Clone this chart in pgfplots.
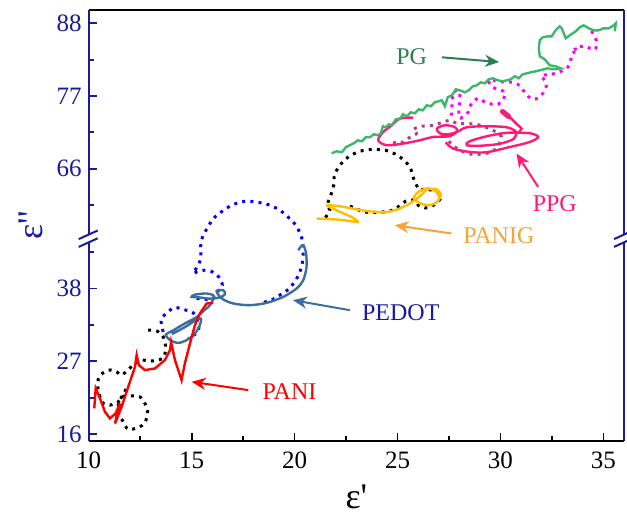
\documentclass[border=0pt]{standalone}
\usepackage{pgfplots}
\pgfplotsset{compat=1.18}
\usepackage{fontspec}
\setmainfont{Liberation Serif}
\newfontfamily\lblfont{Liberation Serif}[Ligatures=TeXOff]
\usetikzlibrary{arrows.meta}
\definecolor{navy}{HTML}{1A1A9A}
\definecolor{pgline}{HTML}{3DB86B}
\definecolor{pgtext}{HTML}{2E7D4F}
\definecolor{ppg}{HTML}{FF1A78}
\definecolor{mag}{HTML}{FF00FF}
\definecolor{dmag}{HTML}{B0408A}
\definecolor{panig}{HTML}{FFBF00}
\definecolor{panigtext}{HTML}{F7A23A}
\definecolor{pedot}{HTML}{3A6E9E}
\definecolor{bdot}{HTML}{0000FF}
\definecolor{pani}{HTML}{FF0000}
\begin{document}
\begin{tikzpicture}
\path[use as bounding box] (-44.35pt,-37.15pt) rectangle (269.15pt,220.35pt);
\begin{axis}[
  scale only axis, width=267.65pt, height=215.35pt,
  xmin=10, xmax=36, ymin=15, ymax=90,
  y coord trafo/.code={\pgfmathparse{#1>50 ? #1-9.9 : #1}},
  y coord inv trafo/.code={\pgfmathparse{#1>45.5 ? #1+9.9 : #1}},
  xtick={10,15,20,25,30,35}, minor xtick={12.5,17.5,22.5,27.5,32.5},
  ytick={16,27,38,66,77,88}, yticklabels={16,27,38,66,77,88},
  minor ytick={21.5,32.5,43.5,60.5,71.5,82.5},
  tick align=inside, xtick pos=bottom, ytick pos=left,
  major tick length=4pt, minor tick length=2.5pt,
  x tick style={black, line width=0.9pt},
  y tick style={navy, line width=0.9pt},
  separate axis lines,
  axis line style={draw=none},
  /pgf/number format/assume math mode=true,
  tick label style={font=\fontsize{12.5}{14}\selectfont},
  yticklabel style={navy},
  xticklabel style={black, yshift=-2pt},
  clip=false,
  dotstyle/.style={line width=1.5pt, dash pattern=on 1.5pt off 2.6pt, smooth, tension=0.5},
]
% black dotted (lower)
\addplot[black, dotstyle] coordinates {(12.89,31.71)(13.30,31.60)(13.62,30.70)(13.74,28.95)(13.59,27.44)(12.98,27.03)(12.49,27.18)(12.00,25.97)(11.60,24.91)(11.36,25.41)(10.95,25.67)(10.50,24.66)(10.45,22.95)(10.55,21.63)(10.71,20.64)(11.03,20.38)(11.44,20.88)(11.71,21.74)(12.09,21.79)(12.49,21.63)(12.73,20.64)(12.86,19.37)(12.73,17.71)(12.41,17.01)(11.92,16.71)(11.68,17.86)(11.44,19.13)(11.44,20.38)(11.60,21.63)(11.76,22.39)(11.81,23.15)};
% blue dotted
\addplot[bdot, dotstyle] coordinates {(13.62,31.45)(13.54,32.47)(13.54,33.48)(13.91,34.63)(14.19,35.14)(14.63,34.81)(15.08,34.32)(15.32,32.72)(15.31,31.45)(14.83,30.46)};
\addplot[bdot, dotstyle] coordinates {(15.24,36.50)(15.85,36.35)(16.13,36.74)(16.29,37.65)(16.49,38.51)(16.33,39.72)(15.94,40.62)(15.61,40.77)(15.26,40.55)(15.08,40.27)(15.31,41.53)(15.45,42.54)(15.44,43.54)(15.44,44.40)(15.49,45.41)(15.61,56.22)(15.94,57.97)(16.13,58.72)(16.37,59.33)(16.86,60.34)(17.34,60.95)(17.75,61.10)(18.07,60.99)(18.40,60.84)(18.67,60.64)(19.29,59.74)(19.93,57.97)(20.10,57.21)(20.26,56.31)(20.40,45.00)(20.42,43.54)(20.34,41.27)(20.06,39.26)(19.69,37.86)(19.45,37.34)(19.20,36.85)(18.93,36.35)(18.32,35.74)};
% PEDOT
\addplot[pedot, line width=1.2pt, smooth, tension=0.5] coordinates {(20.18,43.79)(20.39,44.55)(20.55,43.54)(20.58,41.27)(20.42,39.26)(20.10,38.01)(19.45,36.74)(18.64,35.83)(17.83,35.49)(17.02,35.74)(16.46,36.50)(16.21,37.60)(16.53,37.75)(16.62,37.15)(16.37,36.65)(15.89,36.47)(15.40,36.65)(15.00,36.74)(15.16,37.07)(15.73,37.25)(16.08,36.85)(15.89,35.49)(15.56,34.58)(15.24,33.67)(14.67,32.72)(14.04,31.56)(13.75,31.03)(13.95,30.20)(14.35,29.79)(14.76,30.20)(15.16,31.21)(15.40,32.47)(15.45,33.45)(15.21,33.22)(14.67,32.16)(14.04,31.11)};
% PANI
\addplot[pani, line width=1.2pt] coordinates {(10.27,19.88)(10.34,22.90)(10.55,21.39)(10.79,19.37)(11.03,18.37)(11.31,19.13)(11.52,20.64)(11.36,18.87)(11.28,17.61)(11.60,20.12)(11.92,23.15)(12.25,26.17)(12.33,27.93)(12.44,26.42)(12.73,25.67)(13.22,25.92)(13.70,27.18)(13.95,28.69)(14.00,29.94)(14.19,27.18)(14.51,24.16)(14.67,26.68)(14.92,29.70)(15.16,32.47)(15.40,34.23)(15.73,35.74)(16.05,35.83)};
% black dotted (upper)
\addplot[black, dotstyle] coordinates {(21.50,58.63)(21.71,59.74)(21.60,60.64)(21.76,62.00)(21.92,63.77)(21.92,64.77)(22.10,66.08)(22.41,67.29)(22.65,67.89)(23.17,68.65)(23.79,68.95)(24.09,68.91)(24.42,68.80)(25.00,68.05)(25.47,66.79)(25.65,65.93)(25.81,64.27)(26.08,62.76)(26.37,63.01)(26.97,62.35)(27.09,61.50)(26.67,60.34)(26.33,60.08)(26.00,60.49)(25.84,61.25)(25.40,61.10)(24.92,59.99)(24.63,59.63)(24.33,59.48)(23.41,59.48)(22.55,60.59)};
% PANIG
\addplot[panig, line width=1.2pt, smooth, tension=0.4] coordinates {(21.07,58.48)(22.20,58.30)(23.07,57.97)(22.78,58.68)(21.71,60.19)(21.60,60.49)(22.20,60.34)(23.41,59.66)(24.38,59.43)(25.01,59.89)(25.60,60.75)(26.08,61.85)(26.47,62.91)(26.89,62.91)(27.10,62.15)(26.96,61.10)(26.57,60.49)(26.08,60.79)(25.79,61.55)(25.99,62.46)(26.47,63.06)(26.91,62.46)(27.05,61.40)};
% magenta dotted
\addplot[mag, dotstyle] coordinates {(34.42,86.82)(34.66,85.31)(34.58,84.01)(34.09,84.51)(33.61,84.31)(33.77,83.65)(33.50,83.50)(33.36,81.79)(33.12,80.99)(32.49,80.28)(31.99,80.13)(32.15,79.37)(32.23,78.47)(32.07,77.46)(31.87,76.76)(31.58,76.50)(31.34,76.96)(31.13,77.76)(30.84,78.77)(30.35,79.18)(29.97,79.12)(29.64,79.37)(29.40,79.27)(29.72,78.17)(30.21,77.61)(30.13,76.46)(29.88,75.75)(29.32,75.95)(28.90,76.66)(28.51,75.45)(28.43,74.54)(27.99,73.74)(28.02,77.56)(27.70,77.37)(27.62,73.94)};
% dark magenta dotted
\addplot[dmag, dotstyle] coordinates {(24.79,70.05)(25.11,69.81)(25.60,70.76)(25.92,71.32)(25.76,71.93)(26.18,72.43)(26.73,72.58)(27.54,73.33)(27.86,72.83)(28.35,72.83)(28.83,72.73)(29.24,72.32)(29.72,71.67)(30.05,70.81)(29.87,69.40)(29.56,68.54)(29.00,68.20)(28.59,68.20)(28.02,68.80)(27.54,70.01)(27.46,70.81)(27.70,71.82)};
% PPG
\addplot[ppg, line width=1.2pt, smooth, tension=0.5] coordinates {(27.34,70.01)(27.70,69.06)(28.51,68.54)(29.32,68.50)(30.31,69.18)(31.42,70.05)(31.83,70.81)(31.42,71.37)(30.31,71.44)(29.34,70.92)(28.51,70.16)(28.36,69.56)(29.00,69.48)(29.97,69.78)(30.65,70.54)(30.75,71.59)(30.31,72.27)(29.34,72.43)(28.36,72.27)(27.88,71.56)(27.46,71.22)(27.05,71.37)(26.91,72.08)(27.30,72.58)(27.78,72.32)(27.88,71.67)(27.54,70.92)(26.73,70.81)(26.08,70.31)(25.27,69.81)(24.47,69.56)(24.06,70.31)(24.29,71.52)(24.72,72.58)(25.11,73.59)(25.76,73.74)};
\addplot[ppg, line width=1.2pt, smooth, tension=0.5] coordinates {(30.13,74.59)(30.45,73.79)(30.85,72.58)(31.02,72.08)(30.89,71.52)};
\addplot[ppg, line width=2.6pt, line cap=round] coordinates {(30.10,74.65)(30.40,73.90)};
% PG
\addplot[pgline, line width=1.2pt] coordinates {(21.80,68.35)(22.05,68.65)(22.30,68.50)(22.49,69.25)(22.68,69.56)(22.88,69.86)(23.07,70.31)(23.27,70.16)(23.46,70.76)(23.66,70.76)(23.85,71.22)(24.04,71.07)(24.19,71.37)(24.29,72.43)(24.43,72.27)(24.58,72.73)(24.72,72.58)(24.92,73.48)(25.11,73.48)(25.26,74.24)(25.45,73.94)(25.65,74.54)(25.84,74.39)(26.03,74.99)(26.23,74.84)(26.42,75.60)(26.62,75.45)(26.81,76.05)(27.00,76.20)(27.15,76.35)(27.30,75.45)(27.44,76.81)(27.64,77.11)(27.83,78.01)(28.02,77.86)(28.27,77.56)(28.46,77.86)(28.66,78.47)(28.85,78.62)(29.04,79.07)(29.24,78.92)(29.43,79.53)(29.63,79.68)(29.87,79.37)(30.11,79.22)(30.31,79.37)(30.50,79.53)(30.69,79.98)(30.89,79.68)(31.08,80.28)(31.28,80.43)(31.47,80.58)(31.71,80.73)(31.91,80.88)(32.10,81.04)(32.30,81.19)(32.49,81.04)(32.68,81.04)(32.93,81.19)(32.68,81.49)(32.39,81.64)(32.15,82.55)(31.91,83.00)(31.86,84.21)(31.91,85.42)(32.05,85.87)(32.30,86.02)(32.49,86.02)(32.68,86.93)(32.88,87.53)(32.98,87.23)(33.17,85.72)(33.36,86.17)(33.66,86.78)(33.85,87.38)(34.04,87.68)(34.29,87.23)(34.53,86.93)(34.77,86.93)(35.01,87.23)(35.26,87.23)(35.50,87.68)(35.60,87.98)(35.55,86.78)};
% annotations
\node[font=\fontsize{12}{14}\selectfont, text=pgtext] at (axis cs:25.69,83.00) {PG};
\draw[pgtext, line width=1pt, -{Stealth[length=7pt,width=6pt]}] (axis cs:27.15,82.85) -- (axis cs:29.93,82.14);
\node[font=\fontsize{12}{14}\selectfont, text=ppg] at (axis cs:32.64,60.79) {PPG};
\draw[ppg, line width=1pt, -{Stealth[length=7pt,width=6pt]}] (axis cs:31.83,63.26) -- (axis cs:30.78,68.30);
\node[font=\fontsize{12}{14}\selectfont, text=panigtext] at (axis cs:29.92,55.96) {PANIG};
\draw[panigtext, line width=1pt, -{Stealth[length=7pt,width=6pt]}] (axis cs:27.62,56.22) -- (axis cs:24.87,57.47);
\node[font=\fontsize{12}{14}\selectfont, text=navy] at (axis cs:25.16,34.28) {PEDOT};
\draw[pedot, line width=1pt, -{Stealth[length=7pt,width=6pt]}] (axis cs:22.68,34.73) -- (axis cs:19.92,36.24);
\node[font=\fontsize{12}{14}\selectfont, text=pani] at (axis cs:19.75,22.50) {PANI};
\draw[pani, line width=1pt, -{Stealth[length=7pt,width=6pt]}] (axis cs:17.75,22.65) -- (axis cs:15.00,23.90);
% axis labels
\node[font=\fontsize{18}{20}\selectfont, text=navy, rotate=90, anchor=base, inner sep=0pt] at (axis description cs:-0.0854,0.5) {\lblfont ε''};
\node[font=\fontsize{18}{20}\selectfont, text=black, anchor=base, inner sep=0pt] at (axis description cs:0.5,-0.1563) {\lblfont ε'};
\end{axis}
% frame with scale breaks
\draw[black, line width=1pt] (0pt,0pt) -- (267.65pt,0pt);
\draw[black, line width=1pt] (0pt,215.35pt) -- (267.65pt,215.35pt);
\draw[navy, line width=1pt] (0pt,0pt) -- (0pt,99.1pt);
\draw[navy, line width=1pt] (0pt,103.0pt) -- (0pt,215.35pt);
\draw[navy, line width=1pt] (267.65pt,0pt) -- (267.65pt,99.1pt);
\draw[navy, line width=1pt] (267.65pt,103.0pt) -- (267.65pt,215.35pt);
\draw[navy, line width=1pt] (-5pt,96.9pt) -- (4.5pt,101.2pt);
\draw[navy, line width=1pt] (-5pt,100.8pt) -- (4.5pt,105.1pt);
\draw[navy, line width=1pt] (262.65pt,96.9pt) -- (272.15pt,101.2pt);
\draw[navy, line width=1pt] (262.65pt,100.8pt) -- (272.15pt,105.1pt);
\end{tikzpicture}
\end{document}
